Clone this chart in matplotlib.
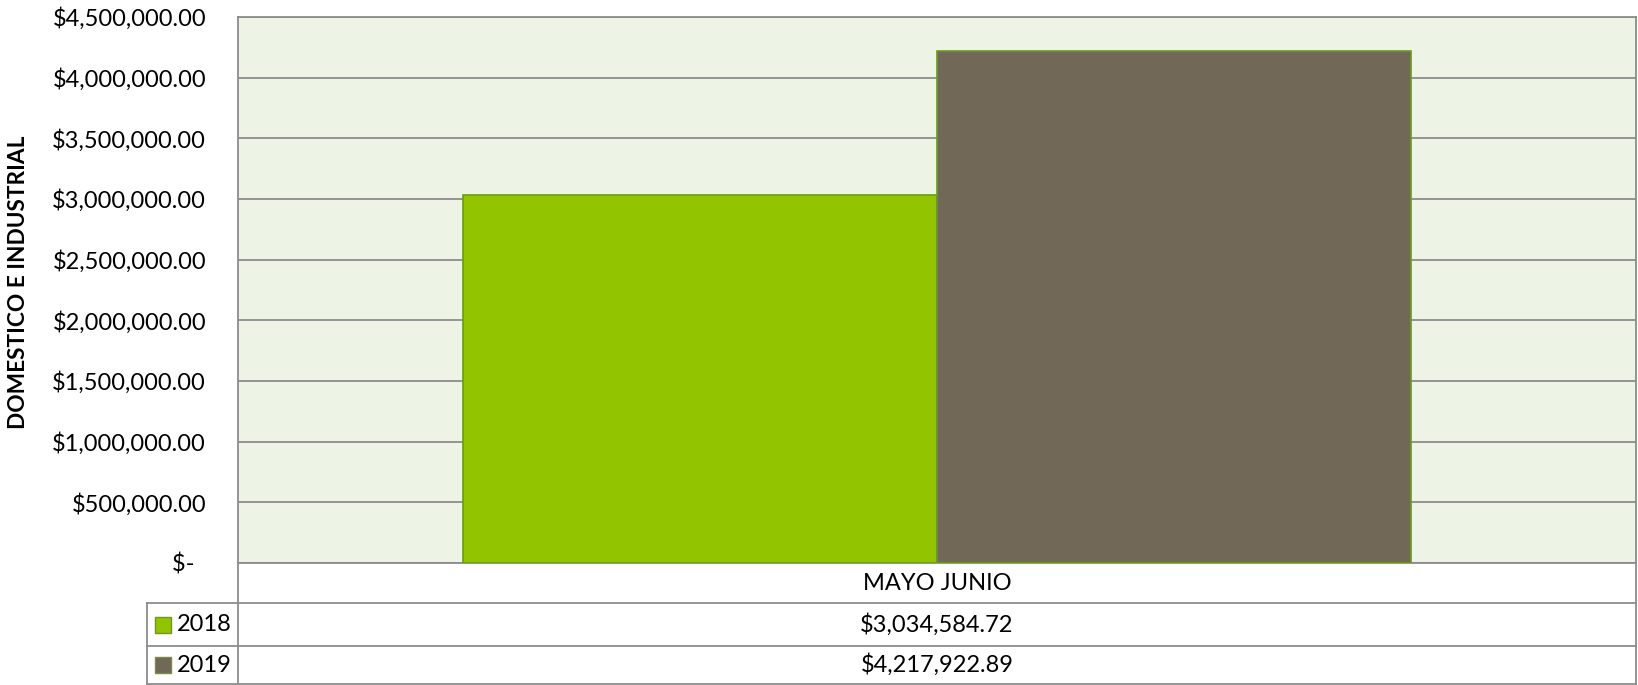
import numpy as np
import matplotlib
matplotlib.use("Agg")
import matplotlib.pyplot as plt
from matplotlib.patches import Rectangle
from matplotlib.lines import Line2D

plt.rcParams['font.family'] = ['Lato', 'DejaVu Sans']

# data
category = ["MAYO JUNIO"]
years = ["2018", "2019"]
values = [3034584.72, 4217922.89]
colors = ["#92C500", "#726857"]
yticks = [0, 500000, 1000000, 1500000, 2000000, 2500000, 3000000, 3500000, 4000000, 4500000]

W, H = 1638, 685
fig = plt.figure(figsize=(W / 100, H / 100), dpi=100)
fs = 17

# plot area in pixels
px_l, px_r, px_t, px_b = 238, 1636, 17, 563
ax = fig.add_axes([px_l / W, 1 - px_b / H, (px_r - px_l) / W, (px_b - px_t) / H])
ax.set_facecolor("#EEF4E5")

bw = 0.339
x = np.arange(len(category))
for i, (yr, v, c) in enumerate(zip(years, values, colors)):
    ax.bar(x + (i - 0.5) * bw, [v], width=bw, color=c, edgecolor="#6B9A1C",
           linewidth=1.2, zorder=3)

ax.set_xlim(-0.5, 0.5)
ax.set_ylim(0, 4500000)
ax.set_yticks(yticks)
ax.set_yticklabels([f"${t:,.2f}" if t else "$-  " for t in yticks], fontsize=fs)
ax.tick_params(axis="y", length=0, pad=23)
ax.set_xticks([])
ax.grid(axis="y", color="#8C8C8C", linewidth=1.3, zorder=1)
for s in ax.spines.values():
    s.set_color("#8C8C8C")
    s.set_linewidth(1.3)

fig.text(19 / W, 1 - 282 / H, "DOMESTICO E INDUSTRIAL", rotation=90, ha="center",
         va="center", fontsize=16.3, fontweight="bold")

# data table below plot
tf = fig.transFigure
def fx(p):
    return p / W
def fy(p):
    return 1 - p / H

gcol = "#8C8C8C"
rows = [563, 603, 646, 684]
lines = [
    ((px_l, px_l), (563, 684)),
    ((px_r, px_r), (563, 684)),
    ((147, 147), (603, 684)),
]
for yy in rows[1:]:
    lines.append(((147, px_r), (yy, yy)))
for (xs, ys) in lines:
    fig.add_artist(Line2D([fx(v) for v in xs], [fy(v) for v in ys],
                          color=gcol, linewidth=1.3, transform=tf))

cx = (px_l + px_r) / 2
fig.text(fx(cx), fy((rows[0] + rows[1]) / 2), category[0], ha="center",
         va="center", fontsize=fs)
for i, (yr, v, c) in enumerate(zip(years, values, colors)):
    yc = (rows[i + 1] + rows[i + 2]) / 2
    fig.text(fx(cx), fy(yc), f"${v:,.2f}", ha="center", va="center", fontsize=fs)
    fig.add_artist(Rectangle((fx(155), fy(yc + 8)), 16 / W, 16 / H, facecolor=c,
                             edgecolor="#6B9A1C", linewidth=1, transform=tf))
    fig.text(fx(177), fy(yc), yr, ha="left", va="center", fontsize=fs)

fig.savefig("out.png", dpi=100)
